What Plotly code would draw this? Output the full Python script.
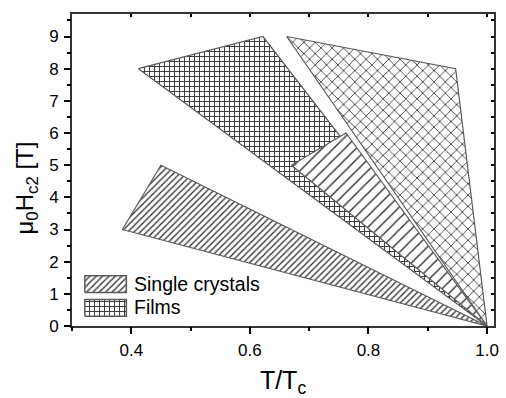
import plotly.graph_objects as go

# Data: vertices of each region (T/Tc, mu0Hc2 [T])
sc1_x = [0.385, 0.450, 1.0, 0.385]
sc1_y = [3.0, 5.0, 0.0, 3.0]
sc2_x = [0.670, 0.762, 1.0, 0.670]
sc2_y = [5.0, 6.0, 0.0, 5.0]
film1_x = [0.412, 0.622, 1.0, 0.412]
film1_y = [8.0, 9.0, 0.0, 8.0]
film2_x = [0.662, 0.947, 1.0, 0.662]
film2_y = [9.0, 8.0, 0.0, 9.0]
legend_labels = ["Single crystals", "Films"]

font = "Liberation Sans, Arial, sans-serif"
line_col = "#5a5a5a"
pat_col = "#333333"

PAT_SC1 = dict(shape="/", size=4.5, solidity=0.3)
PAT_SC2 = dict(shape="/", size=8, solidity=0.18)
PAT_F1 = dict(shape="+", size=5, solidity=0.34)
PAT_F2 = dict(shape="x", size=8, solidity=0.2)

fig = go.Figure()

def poly(x, y, pat, xa="x", ya="y", lw=1.2):
    fig.add_trace(go.Scatter(
        x=x, y=y, mode="lines", fill="toself", xaxis=xa, yaxis=ya,
        line=dict(color=line_col, width=lw),
        fillcolor="white",
        fillpattern=dict(fgcolor=pat_col, bgcolor="white", fillmode="replace", **pat),
        showlegend=False, hoverinfo="skip"))

poly(film2_x, film2_y, PAT_F2)
poly(film1_x, film1_y, PAT_F1)
poly(sc2_x, sc2_y, PAT_SC2)
poly(sc1_x, sc1_y, PAT_SC1)

# legend drawn in a pixel-unit overlay axis (x3/y3 spans plot area: 427 x 317 px)
sw_x = [13, 55, 55, 13, 13]
fig.add_trace(go.Scatter(x=sw_x, y=[34, 34, 51, 51, 34], mode="lines", fill="toself",
                         xaxis="x3", yaxis="y3", line=dict(color=line_col, width=1.5),
                         fillpattern=dict(fgcolor=pat_col, bgcolor="white", fillmode="replace", **PAT_SC1),
                         showlegend=False, hoverinfo="skip"))
fig.add_trace(go.Scatter(x=sw_x, y=[10, 10, 27, 27, 10], mode="lines", fill="toself",
                         xaxis="x3", yaxis="y3", line=dict(color=line_col, width=1.5),
                         fillpattern=dict(fgcolor=pat_col, bgcolor="white", fillmode="replace", **PAT_F1),
                         showlegend=False, hoverinfo="skip"))
for lab, yy in zip(legend_labels, [43, 19]):
    fig.add_annotation(x=61, y=yy, xref="x3", yref="y3", text=lab, showarrow=False,
                       xanchor="left", yanchor="middle", font=dict(size=19.5, family=font))

# dummy traces so the tick-only overlay axes are drawn
for xa, ya in [("x2", "y2"), ("x4", "y4"), ("x5", "y5")]:
    fig.add_trace(go.Scatter(x=[0.5], y=[1], xaxis=xa, yaxis=ya, mode="markers",
                             marker=dict(opacity=0), showlegend=False, hoverinfo="skip"))

xr = [0.3, 1.0117]
yr = [0, 9.7]
tickc = "black"
tickonly = dict(showticklabels=False, showgrid=False, zeroline=False, showline=False,
                tickcolor=tickc, tickwidth=1.6, fixedrange=True, tick0=0)
fig.update_layout(
    width=506, height=398,
    margin=dict(l=72, r=7, t=14, b=67),
    plot_bgcolor="white", paper_bgcolor="white",
    font=dict(family=font, size=17, color="black"),
    showlegend=False,
    xaxis=dict(range=xr, tick0=0, dtick=0.2, tickformat=".1f", ticks="",
               ticklabelstandoff=8,
               showline=True, linecolor="#333", linewidth=2, mirror=True,
               showgrid=False, zeroline=False,
               title=dict(text="T/T<sub>c</sub>", font=dict(size=25), standoff=13)),
    yaxis=dict(range=yr, tick0=0, dtick=1, ticks="", ticklabelstandoff=8,
               showline=True, linecolor="#333", linewidth=2, mirror=True,
               showgrid=False, zeroline=False),
    # major ticks bottom / left
    xaxis2=dict(range=xr, overlaying="x", side="bottom", dtick=0.2,
                ticks="outside", ticklen=7, **tickonly),
    yaxis2=dict(range=yr, overlaying="y", side="left", dtick=1,
                ticks="outside", ticklen=7, **tickonly),
    # minor ticks bottom / left
    xaxis5=dict(range=xr, overlaying="x", side="bottom", dtick=0.1,
                ticks="outside", ticklen=4, **tickonly),
    yaxis5=dict(range=yr, overlaying="y", side="left", dtick=0.5,
                ticks="outside", ticklen=4, **tickonly),
    # inside ticks on top / right
    xaxis4=dict(range=xr, overlaying="x", side="top", dtick=0.1,
                ticks="inside", ticklen=3, **tickonly),
    yaxis4=dict(range=yr, overlaying="y", side="right", dtick=0.5,
                ticks="inside", ticklen=3, **tickonly),
    xaxis3=dict(range=[0, 427], overlaying="x", visible=False, fixedrange=True),
    yaxis3=dict(range=[0, 317], overlaying="y", visible=False, fixedrange=True),
)
fig.add_annotation(text="μ<sub>0</sub>H<sub>c2</sub> [T]", textangle=-90, showarrow=False,
                   xref="paper", yref="paper", x=-0.108, y=0.442,
                   xanchor="center", yanchor="middle", font=dict(size=24, family=font))

fig.write_html("out.html")
